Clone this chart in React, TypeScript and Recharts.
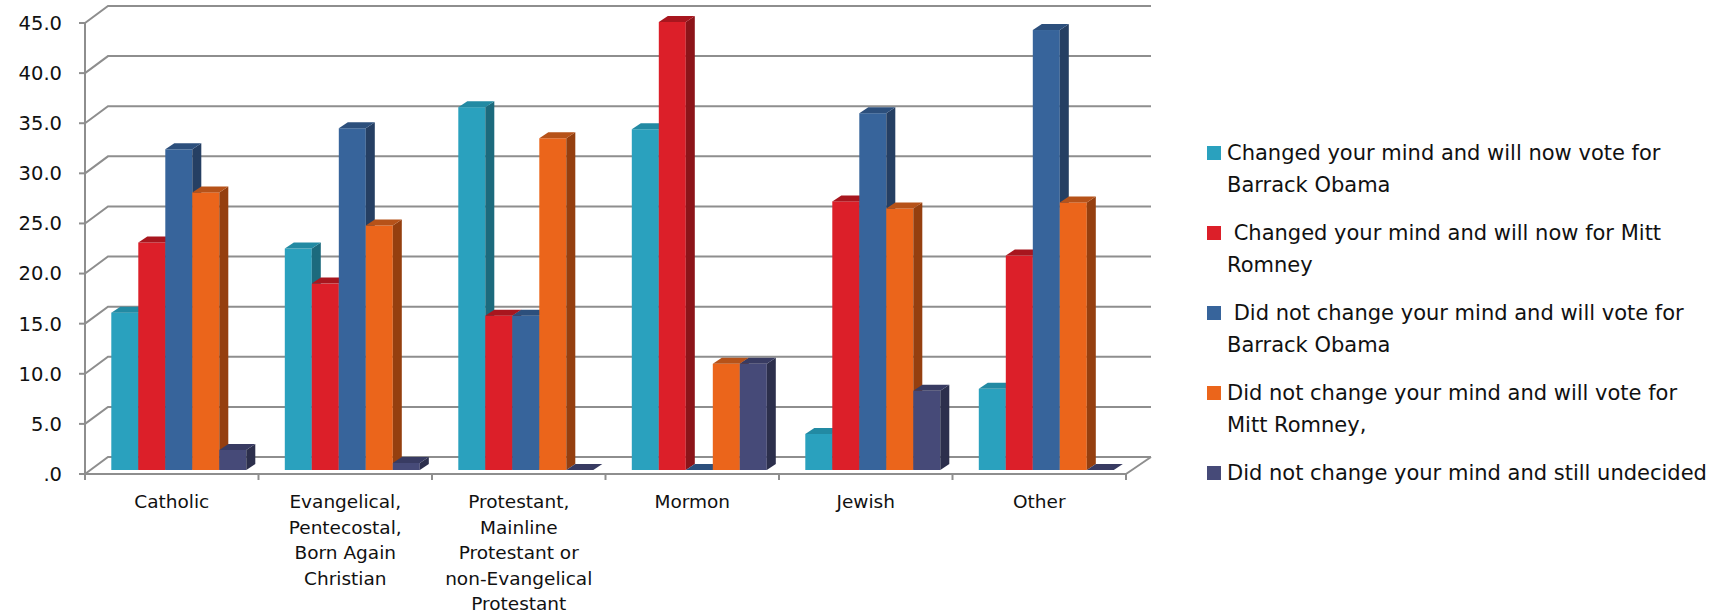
import React from 'react';
import { BarChart, Bar, XAxis, YAxis, CartesianGrid } from 'recharts';

const categories = [
  'Catholic',
  'Evangelical,\nPentecostal,\nBorn Again\nChristian',
  'Protestant,\nMainline\nProtestant or\nnon-Evangelical\nProtestant',
  'Mormon',
  'Jewish',
  'Other',
];

const changedObama = [15.7, 22.1, 36.2, 34.0, 3.6, 8.1];
const changedRomney = [22.7, 18.6, 15.4, 44.7, 26.8, 21.4];
const keptObama = [32.0, 34.1, 15.4, 0, 35.6, 43.9];
const keptRomney = [27.7, 24.4, 33.1, 10.6, 26.1, 26.7];
const undecided = [2.0, 0.7, 0, 10.6, 7.9, 0];

const seriesNames = [
  'Changed your mind and will now vote for\nBarrack Obama',
  ' Changed your mind and will now for Mitt\nRomney',
  ' Did not change your mind and will vote for\nBarrack Obama',
  'Did not change your mind and will vote for\nMitt Romney,',
  'Did not change your mind and still undecided',
];

const yTicks = [0, 5, 10, 15, 20, 25, 30, 35, 40, 45];

// front / side / top shades for each series
const palette = [
  { front: '#2aa1be', side: '#1c6a7d', top: '#228aa3' },
  { front: '#dc1f29', side: '#8c1419', top: '#a8161e' },
  { front: '#37649b', side: '#253f63', top: '#2c4f7c' },
  { front: '#eb651b', side: '#953f0f', top: '#b65219' },
  { front: '#464a78', side: '#2c2f4c', top: '#383b62' },
];

const data = categories.map((name, i) => ({
  name,
  s0: changedObama[i],
  s1: changedRomney[i],
  s2: keptObama[i],
  s3: keptRomney[i],
  s4: undecided[i],
}));

const W = 1718;
const H = 615;
const PLOT_LEFT = 85;
const PLOT_RIGHT = 1126;
const PLOT_TOP = 23;
const PLOT_BOTTOM = 474;
const BAND = (PLOT_RIGHT - PLOT_LEFT) / categories.length;

// 3d offsets
const WALL_DX = 23;
const WALL_DY = 17;
const SHIFT_X = 6;
const SHIFT_Y = 4;
const DEPTH_X = 9;
const DEPTH_Y = 6;

const GRID = '#8e8e8e';
const FONT = '"DejaVu Sans", sans-serif';

const Box = (props: any) => {
  const { x, y, width, height, colors } = props;
  const x0 = x + SHIFT_X;
  const y0 = y - SHIFT_Y;
  const w = width;
  const h = Math.max(height || 0, 0);
  return (
    <g>
      {h > 0 && <rect x={x0} y={y0} width={w} height={h} fill={colors.front} />}
      {h > 0 && (
        <polygon
          points={`${x0 + w},${y0} ${x0 + w + DEPTH_X},${y0 - DEPTH_Y} ${x0 + w + DEPTH_X},${y0 + h - DEPTH_Y} ${x0 + w},${y0 + h}`}
          fill={colors.side}
        />
      )}
      <polygon
        points={`${x0},${y0} ${x0 + DEPTH_X},${y0 - DEPTH_Y} ${x0 + w + DEPTH_X},${y0 - DEPTH_Y} ${x0 + w},${y0}`}
        fill={colors.top}
      />
    </g>
  );
};

const GridLine = (props: any) => {
  const { x1, y1, x2 } = props;
  const isFloor = Math.abs(y1 - PLOT_BOTTOM) < 1;
  return (
    <g key={`g-${y1}`}>
      <polyline
        points={`${x1},${y1} ${x1 + WALL_DX},${y1 - WALL_DY} ${x2 + WALL_DX + 2},${y1 - WALL_DY}`}
        fill="none"
        stroke={GRID}
        strokeWidth={2}
      />
      {isFloor && (
        <line x1={x2} y1={y1} x2={x2 + WALL_DX + 2} y2={y1 - WALL_DY} stroke={GRID} strokeWidth={2} />
      )}
    </g>
  );
};

const CategoryTick = (props: any) => {
  const { x, payload, index } = props;
  const lines = String(payload.value).split('\n');
  const left = x - BAND / 2;
  return (
    <g>
      <line x1={left} y1={PLOT_BOTTOM} x2={left} y2={PLOT_BOTTOM + 6} stroke={GRID} strokeWidth={2} />
      {index === categories.length - 1 && (
        <line x1={x + BAND / 2} y1={PLOT_BOTTOM} x2={x + BAND / 2} y2={PLOT_BOTTOM + 6} stroke={GRID} strokeWidth={2} />
      )}
      <text textAnchor="middle" fontFamily={FONT} fontSize={18.5} fill="#111">
        {lines.map((l, i) => (
          <tspan key={i} x={x} y={PLOT_BOTTOM + 34 + i * 25.5}>
            {l}
          </tspan>
        ))}
      </text>
    </g>
  );
};

const fmt = (v: number) => (v === 0 ? '.0' : v.toFixed(1));

export default function App() {
  return (
    <div style={{ position: 'relative', width: W, height: H, background: '#fff' }}>
      <style>{`body { margin: 0; }`}</style>
      <BarChart
        width={W}
        height={H}
        data={data}
        margin={{ top: PLOT_TOP, left: 0, right: W - PLOT_RIGHT, bottom: 0 }}
        barCategoryGap="11.7%"
        barGap={0}
      >
        <CartesianGrid vertical={false} horizontal={GridLine as any} />
        <YAxis
          width={PLOT_LEFT}
          domain={[0, 45]}
          ticks={yTicks}
          interval={0}
          tickFormatter={fmt}
          axisLine={{ stroke: GRID, strokeWidth: 2 }}
          tickLine={{ stroke: GRID, strokeWidth: 2 }}
          tickSize={6}
          tickMargin={17}
          tick={{ fontFamily: FONT, fontSize: 19.5, fill: '#111' }}
        />
        <XAxis
          dataKey="name"
          height={H - PLOT_BOTTOM}
          interval={0}
          axisLine={{ stroke: GRID, strokeWidth: 2 }}
          tickLine={false}
          tickSize={0}
          tick={<CategoryTick />}
        />
        {palette.map((c, i) => (
          <Bar
            key={i}
            dataKey={`s${i}`}
            name={seriesNames[i]}
            isAnimationActive={false}
            shape={(p: any) => <Box {...p} colors={c} />}
          />
        ))}
      </BarChart>
      <div style={{ position: 'absolute', left: 1207, top: 138, fontFamily: FONT, fontSize: 21, color: '#111' }}>
        {seriesNames.map((n, i) => (
          <div key={i} style={{ position: 'relative', height: 80 }}>
            <div style={{ position: 'absolute', left: 0, top: 8, width: 14, height: 14, background: palette[i].front }} />
            <div style={{ position: 'absolute', left: 20, top: 0, whiteSpace: 'pre', lineHeight: '31.5px' }}>{n}</div>
          </div>
        ))}
      </div>
    </div>
  );
}
